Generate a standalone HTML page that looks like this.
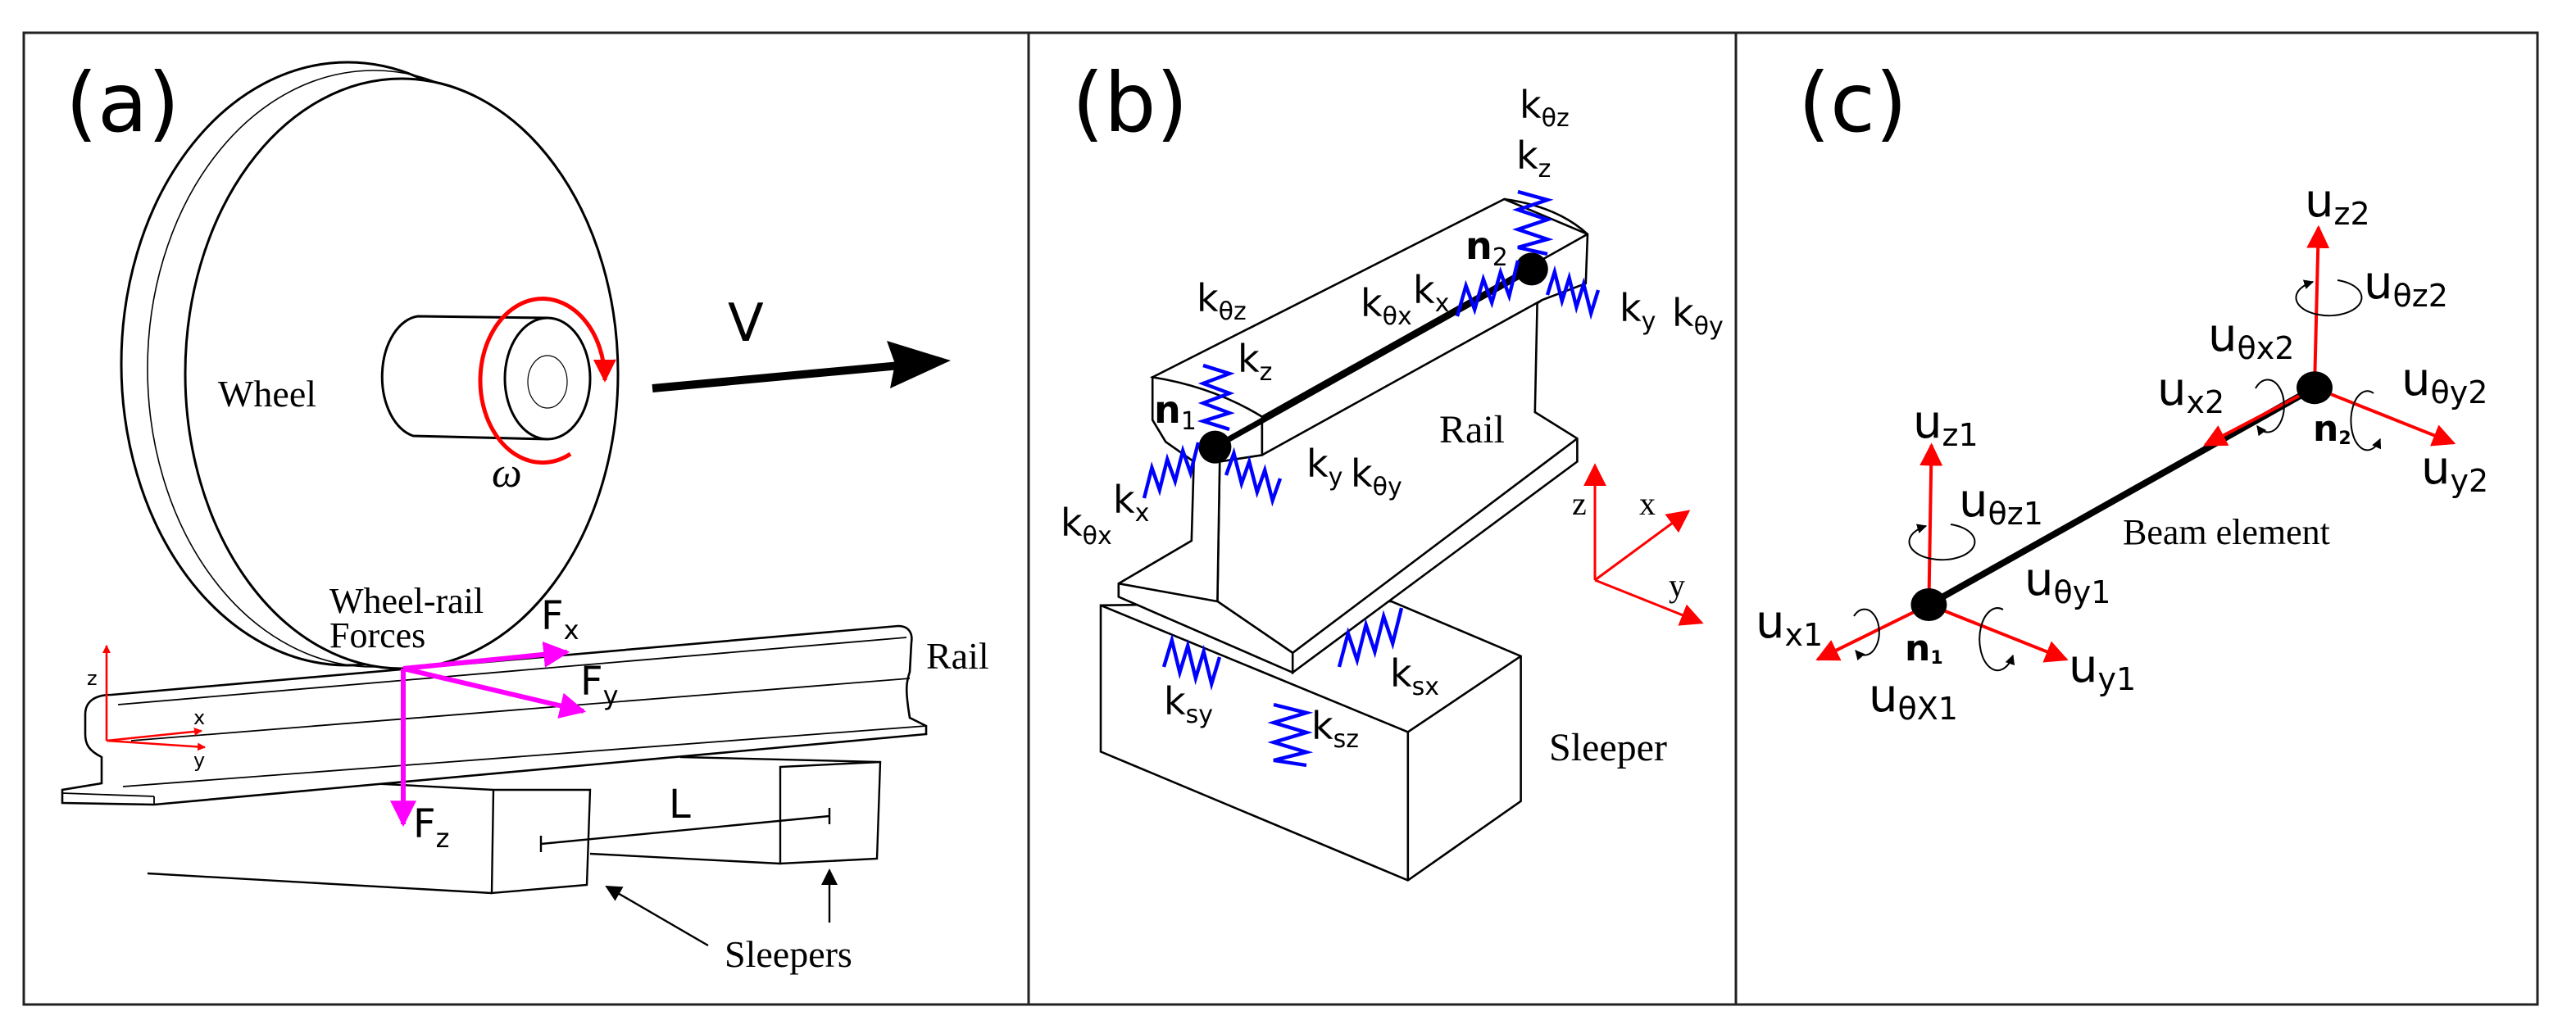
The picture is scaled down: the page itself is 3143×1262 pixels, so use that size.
<!DOCTYPE html>
<html><head><meta charset="utf-8"><style>
html,body{margin:0;padding:0;background:#fff;}
svg{display:block;}
.s{font-family:"DejaVu Sans","Liberation Sans",sans-serif;}
.r{font-family:"Liberation Serif",serif;}
</style></head><body>
<svg width="3143" height="1262" viewBox="0 0 1571.5 631" xmlns="http://www.w3.org/2000/svg">
<defs>
<marker id="ar" viewBox="0 0 10 10" refX="9" refY="5" markerWidth="5" markerHeight="5" orient="auto" markerUnits="userSpaceOnUse"><path d="M0,0 L10,5 L0,10 z" fill="#f00"/></marker>
<marker id="arR" viewBox="0 0 10 10" refX="9" refY="5" markerWidth="14" markerHeight="14" orient="auto" markerUnits="userSpaceOnUse"><path d="M0,0 L10,5 L0,10 z" fill="#f00"/></marker>
<marker id="arM" viewBox="0 0 10 10" refX="9" refY="5" markerWidth="16" markerHeight="16" orient="auto" markerUnits="userSpaceOnUse"><path d="M0,0 L10,5 L0,10 z" fill="#f0f"/></marker>
<marker id="arK" viewBox="0 0 10 10" refX="9" refY="5" markerWidth="10" markerHeight="10" orient="auto" markerUnits="userSpaceOnUse"><path d="M0,0 L10,5 L0,10 z" fill="#000"/></marker>
<marker id="arS" viewBox="0 0 10 10" refX="9" refY="5" markerWidth="6" markerHeight="6" orient="auto" markerUnits="userSpaceOnUse"><path d="M0,0 L10,5 L0,10 z" fill="#000"/></marker>
</defs>
<rect width="1571.5" height="631" fill="#fff"/>
<rect x="14.5" y="20" width="1533.5" height="593" fill="none" stroke="#222" stroke-width="1.5"/>
<line x1="627.5" y1="20" x2="627.5" y2="613" stroke="#222" stroke-width="1.5"/>
<line x1="1059" y1="20" x2="1059" y2="613" stroke="#222" stroke-width="1.5"/>

<!-- ============ PANEL A ============ -->
<text x="40" y="80" class="s" font-size="50">(a)</text>
<g fill="none" stroke="#000" stroke-width="1.5">
<ellipse cx="212" cy="222" rx="138" ry="184" fill="#fff"/>
<ellipse cx="228" cy="225" rx="138" ry="182" stroke-width="0.8"/>
<ellipse cx="245" cy="228" rx="132" ry="180" fill="#fff"/>
<path d="M255,193 L334,194 L334,268 L252,266 A24,37 0 0 1 255,193 z" fill="#fff"/>
<ellipse cx="334" cy="231" rx="26" ry="37" fill="#fff"/>
<ellipse cx="334" cy="233" rx="12" ry="16" stroke-width="0.6"/>
</g>
<path d="M348,277 A38,50 0 1 1 369,232" fill="none" stroke="#f00" stroke-width="2.5" marker-end="url(#arR)"/>
<text x="300" y="297" class="r" font-size="26" font-style="italic">ω</text>
<text x="133" y="248" class="r" font-size="23">Wheel</text>
<line x1="398" y1="237" x2="560" y2="222" stroke="#000" stroke-width="5"/>
<path d="M580,220 L541,208 L546,222 L543,237 z" fill="#000"/>
<text x="444" y="208" class="s" font-size="32">V</text>
<g fill="none" stroke="#000" stroke-width="1.2">
<line x1="90" y1="533" x2="300" y2="545"/>
<path d="M225,478 L301,482 L360,482 L358,540 L300,545 L301,482" fill="#fff"/>
<line x1="360" y1="521" x2="476" y2="527"/>
<path d="M415,462 L537,465 L535,524 L476,527 L476,468 L537,465" fill="#fff"/>
<line x1="330" y1="515" x2="506" y2="498"/>
<line x1="330" y1="510" x2="330" y2="520"/>
<line x1="506" y1="493" x2="506" y2="503"/>
</g>
<text x="408" y="499" class="s" font-size="24">L</text>
<g fill="#fff" stroke="#000" stroke-width="1.3">
<path d="M68,424 L548,382 C554,382 557,386 556,392 L555,410 C553,416 552,420 555,438 L565,443 L565,448 L94,491 L38,490 L38,482 L62,478 L62,462 C54,458 52,454 52,448 L52,436 C52,428 58,424 68,424 z"/>
<g fill="none" stroke-width="0.9">
<line x1="72" y1="430" x2="553" y2="389"/>
<line x1="80" y1="452" x2="555" y2="414"/>
<line x1="75" y1="480" x2="565" y2="443"/>
<line x1="38" y1="484" x2="94" y2="486"/>
<line x1="94" y1="486" x2="94" y2="491"/>
</g>
</g>
<text x="565" y="408" class="r" font-size="23">Rail</text>
<text x="201" y="374" class="r" font-size="22">Wheel-rail</text>
<text x="201" y="395" class="r" font-size="22">Forces</text>
<g stroke="#f0f" stroke-width="3" fill="none">
<line x1="246" y1="408" x2="346" y2="398" marker-end="url(#arM)"/>
<line x1="246" y1="408" x2="356" y2="434" marker-end="url(#arM)"/>
<line x1="246" y1="408" x2="246" y2="503" marker-end="url(#arM)"/>
</g>
<text x="330" y="384" class="s" font-size="24">F<tspan font-size="16" dy="6">x</tspan></text>
<text x="354" y="424" class="s" font-size="24">F<tspan font-size="16" dy="6">y</tspan></text>
<text x="252" y="511" class="s" font-size="24">F<tspan font-size="16" dy="6">z</tspan></text>
<g stroke="#f00" stroke-width="1.3">
<line x1="65" y1="452" x2="65" y2="394" marker-end="url(#ar)"/>
<line x1="65" y1="452" x2="123" y2="446" marker-end="url(#ar)"/>
<line x1="65" y1="452" x2="125" y2="456" marker-end="url(#ar)"/>
</g>
<text x="53" y="418" class="s" font-size="12">z</text>
<text x="118" y="442" class="s" font-size="12">x</text>
<text x="118" y="468" class="s" font-size="12">y</text>
<g stroke="#000" stroke-width="1.2">
<line x1="432" y1="577" x2="370" y2="541" marker-end="url(#arK)"/>
<line x1="506" y1="563" x2="506" y2="531" marker-end="url(#arK)"/>
</g>
<text x="442" y="590" class="r" font-size="23">Sleepers</text>

<!-- ============ PANEL B ============ -->
<text x="654" y="80" class="s" font-size="50">(b)</text>
<g fill="#fff" stroke="#000" stroke-width="1.3">
<path d="M671.5,369.4 L848.9,367 L927.8,400.4 L927.8,488.9 L858.9,537.2 L671.5,458.7 z"/>
<path d="M671.5,369.4 L858.9,446.7 L927.8,400.4 M858.9,446.7 L858.9,537.2" fill="none"/>
<path d="M917.7,121.5 L968.5,142.9 L967.4,173 L940.7,183.1 L937.8,185.1 L936.4,251.5 L962.2,267.6 L962.2,281.7 L788.6,410.4 L788.6,398.4 L742.7,367 L744.1,281.7 L769.9,277.7 L769.9,254.3 L703.1,230.2 z"/>
<path d="M769.9,254.3 L968.5,142.9 M769.9,277.7 L940.7,183.1 M788.6,398.4 L962.2,267.6" fill="none"/>
<path d="M703.1,230.2 Q740,236 769.9,254.3 L769.9,277.7 L744.1,281.7 L742.7,367 L788.6,398.4 L788.6,410.4 L682.4,364.2 L682.4,356.1 L726.9,330 L728.3,281.7 L711.1,269.6 L703.1,256.3 z"/>
<path d="M917.7,121.5 Q950,126 968.5,142.9" fill="none"/>
<line x1="682.4" y1="356.1" x2="742.7" y2="367" fill="none"/>
</g>
<line x1="741.2" y1="272.8" x2="934.4" y2="164.2" stroke="#000" stroke-width="3.5"/>
<circle cx="741.2" cy="272.8" r="10" fill="#000"/>
<circle cx="934.4" cy="164.2" r="10" fill="#000"/>
<g fill="none" stroke="#00f" stroke-width="2.2">
<polyline points="734,223 750,228 734,234 750,240 734,246 750,252 734,257 750,262"/>
<polyline points="698,304 702.7,285.4 707.4,299 712.1,280.3 716.9,293.7 721.6,275.1 726.3,288.6 731,270"/>
<polyline points="748,290 752.7,276.6 757.4,295.1 762.1,281.7 766.9,300.3 771.6,286.9 776.3,305.4 781,292"/>
<polyline points="926,117 944,122 926,128 944,134 926,140 944,146 926,151 944,155"/>
<polyline points="889,193 894.3,174.4 899.6,188.9 904.9,170.3 910.1,184.7 915.4,166.1 920.7,180.6 926,159"/>
<polyline points="944,180 948.4,165.9 952.9,183.7 957.3,169.6 961.7,187.4 966.1,173.3 970.6,191.2 975,177"/>
<polyline points="710,407 714.9,390.7 719.7,410.4 724.6,394.1 729.4,413.9 734.3,397.6 739.1,417.3 744,401"/>
<polyline points="817,407 822.4,386.4 827.9,402.9 833.3,381.3 838.7,397.7 844.1,376.1 849.6,392.6 855,371"/>
<polyline points="777,430 797,435 777,441 797,447 777,453 797,459 777,464 797,467"/>
</g>
<g class="s" font-size="23">
<text x="730" y="190">k<tspan font-size="15" dy="5">θz</tspan></text>
<text x="755" y="227">k<tspan font-size="15" dy="5">z</tspan></text>
<text x="647" y="327">k<tspan font-size="15" dy="5">θx</tspan></text>
<text x="679" y="313">k<tspan font-size="15" dy="5">x</tspan></text>
<text x="797" y="291">k<tspan font-size="15" dy="5">y</tspan></text>
<text x="824" y="297">k<tspan font-size="15" dy="5">θy</tspan></text>
<text x="830" y="193">k<tspan font-size="15" dy="5">θx</tspan></text>
<text x="862" y="185">k<tspan font-size="15" dy="5">x</tspan></text>
<text x="927" y="72">k<tspan font-size="15" dy="5">θz</tspan></text>
<text x="925" y="103">k<tspan font-size="15" dy="5">z</tspan></text>
<text x="988" y="196">k<tspan font-size="15" dy="5">y</tspan></text>
<text x="1020" y="199">k<tspan font-size="15" dy="5">θy</tspan></text>
<text x="848" y="419">k<tspan font-size="15" dy="5">sx</tspan></text>
<text x="710" y="436">k<tspan font-size="15" dy="5">sy</tspan></text>
<text x="800" y="451">k<tspan font-size="15" dy="5">sz</tspan></text>
<text x="704" y="258" font-weight="bold">n<tspan font-size="15" font-weight="normal" dy="4">1</tspan></text>
<text x="894" y="158" font-weight="bold">n<tspan font-size="15" font-weight="normal" dy="4">2</tspan></text>
</g>
<text x="878" y="270" class="r" font-size="24">Rail</text>
<text x="945" y="464" class="r" font-size="24">Sleeper</text>
<g stroke="#f00" stroke-width="1.5">
<line x1="973" y1="354" x2="973" y2="284" marker-end="url(#arR)"/>
<line x1="973" y1="354" x2="1030" y2="312" marker-end="url(#arR)"/>
<line x1="973" y1="354" x2="1038" y2="380" marker-end="url(#arR)"/>
</g>
<text x="959" y="314" class="r" font-size="20">z</text>
<text x="1000" y="314" class="r" font-size="20">x</text>
<text x="1018" y="364" class="r" font-size="20">y</text>

<!-- ============ PANEL C ============ -->
<text x="1097" y="80" class="s" font-size="50">(c)</text>
<line x1="1176.7" y1="369" x2="1412" y2="236.6" stroke="#000" stroke-width="4"/>
<g stroke="#f00" stroke-width="2">
<line x1="1176.7" y1="369" x2="1178.3" y2="271.6" marker-end="url(#arR)"/>
<line x1="1176.7" y1="369" x2="1108.9" y2="402.4" marker-end="url(#arR)"/>
<line x1="1176.7" y1="369" x2="1260.5" y2="402.4" marker-end="url(#arR)"/>
<line x1="1412" y1="236.6" x2="1414.4" y2="138.8" marker-end="url(#arR)"/>
<line x1="1412" y1="236.6" x2="1345.3" y2="271.6" marker-end="url(#arR)"/>
<line x1="1412" y1="236.6" x2="1496.8" y2="270.4" marker-end="url(#arR)"/>
</g>
<ellipse cx="1176.7" cy="369" rx="11" ry="10" fill="#000"/>
<ellipse cx="1412" cy="236.6" rx="11" ry="10" fill="#000"/>
<g fill="none" stroke="#000" stroke-width="1">
<path d="M1190,320 A20,11 0 1 1 1175,321" marker-end="url(#arS)"/>
<path d="M1426,171 A20,11 0 1 1 1411,172" marker-end="url(#arS)"/>
<path d="M1131,376 A9,14 0 1 1 1132,397" marker-end="url(#arS)"/>
<path d="M1222,372 A11,19 0 1 0 1228,400" marker-end="url(#arS)"/>
<path d="M1376,237 A10,16 0 1 1 1377,260" marker-end="url(#arS)"/>
<path d="M1448,240 A10,18 0 1 0 1452,268" marker-end="url(#arS)"/>
</g>
<g class="s" font-size="28">
<text x="1406" y="132">u<tspan font-size="19" dy="5">z2</tspan></text>
<text x="1442" y="182">u<tspan font-size="19" dy="5">θz2</tspan></text>
<text x="1347" y="214">u<tspan font-size="19" dy="5">θx2</tspan></text>
<text x="1316" y="247">u<tspan font-size="19" dy="5">x2</tspan></text>
<text x="1465" y="241">u<tspan font-size="19" dy="5">θy2</tspan></text>
<text x="1477" y="295">u<tspan font-size="19" dy="5">y2</tspan></text>
<text x="1167" y="267">u<tspan font-size="19" dy="5">z1</tspan></text>
<text x="1195" y="315">u<tspan font-size="19" dy="5">θz1</tspan></text>
<text x="1235" y="363">u<tspan font-size="19" dy="5">θy1</tspan></text>
<text x="1071" y="389">u<tspan font-size="19" dy="5">x1</tspan></text>
<text x="1262" y="416">u<tspan font-size="19" dy="5">y1</tspan></text>
<text x="1140" y="434">u<tspan font-size="19" dy="5">θX1</tspan></text>
<text x="1162" y="403" font-size="22" font-weight="bold">n<tspan font-size="11" dy="2">1</tspan></text>
<text x="1411" y="269" font-size="22" font-weight="bold">n<tspan font-size="11" dy="2">2</tspan></text>
</g>
<text x="1295" y="332" class="r" font-size="22">Beam element</text>
</svg>
</body></html>
